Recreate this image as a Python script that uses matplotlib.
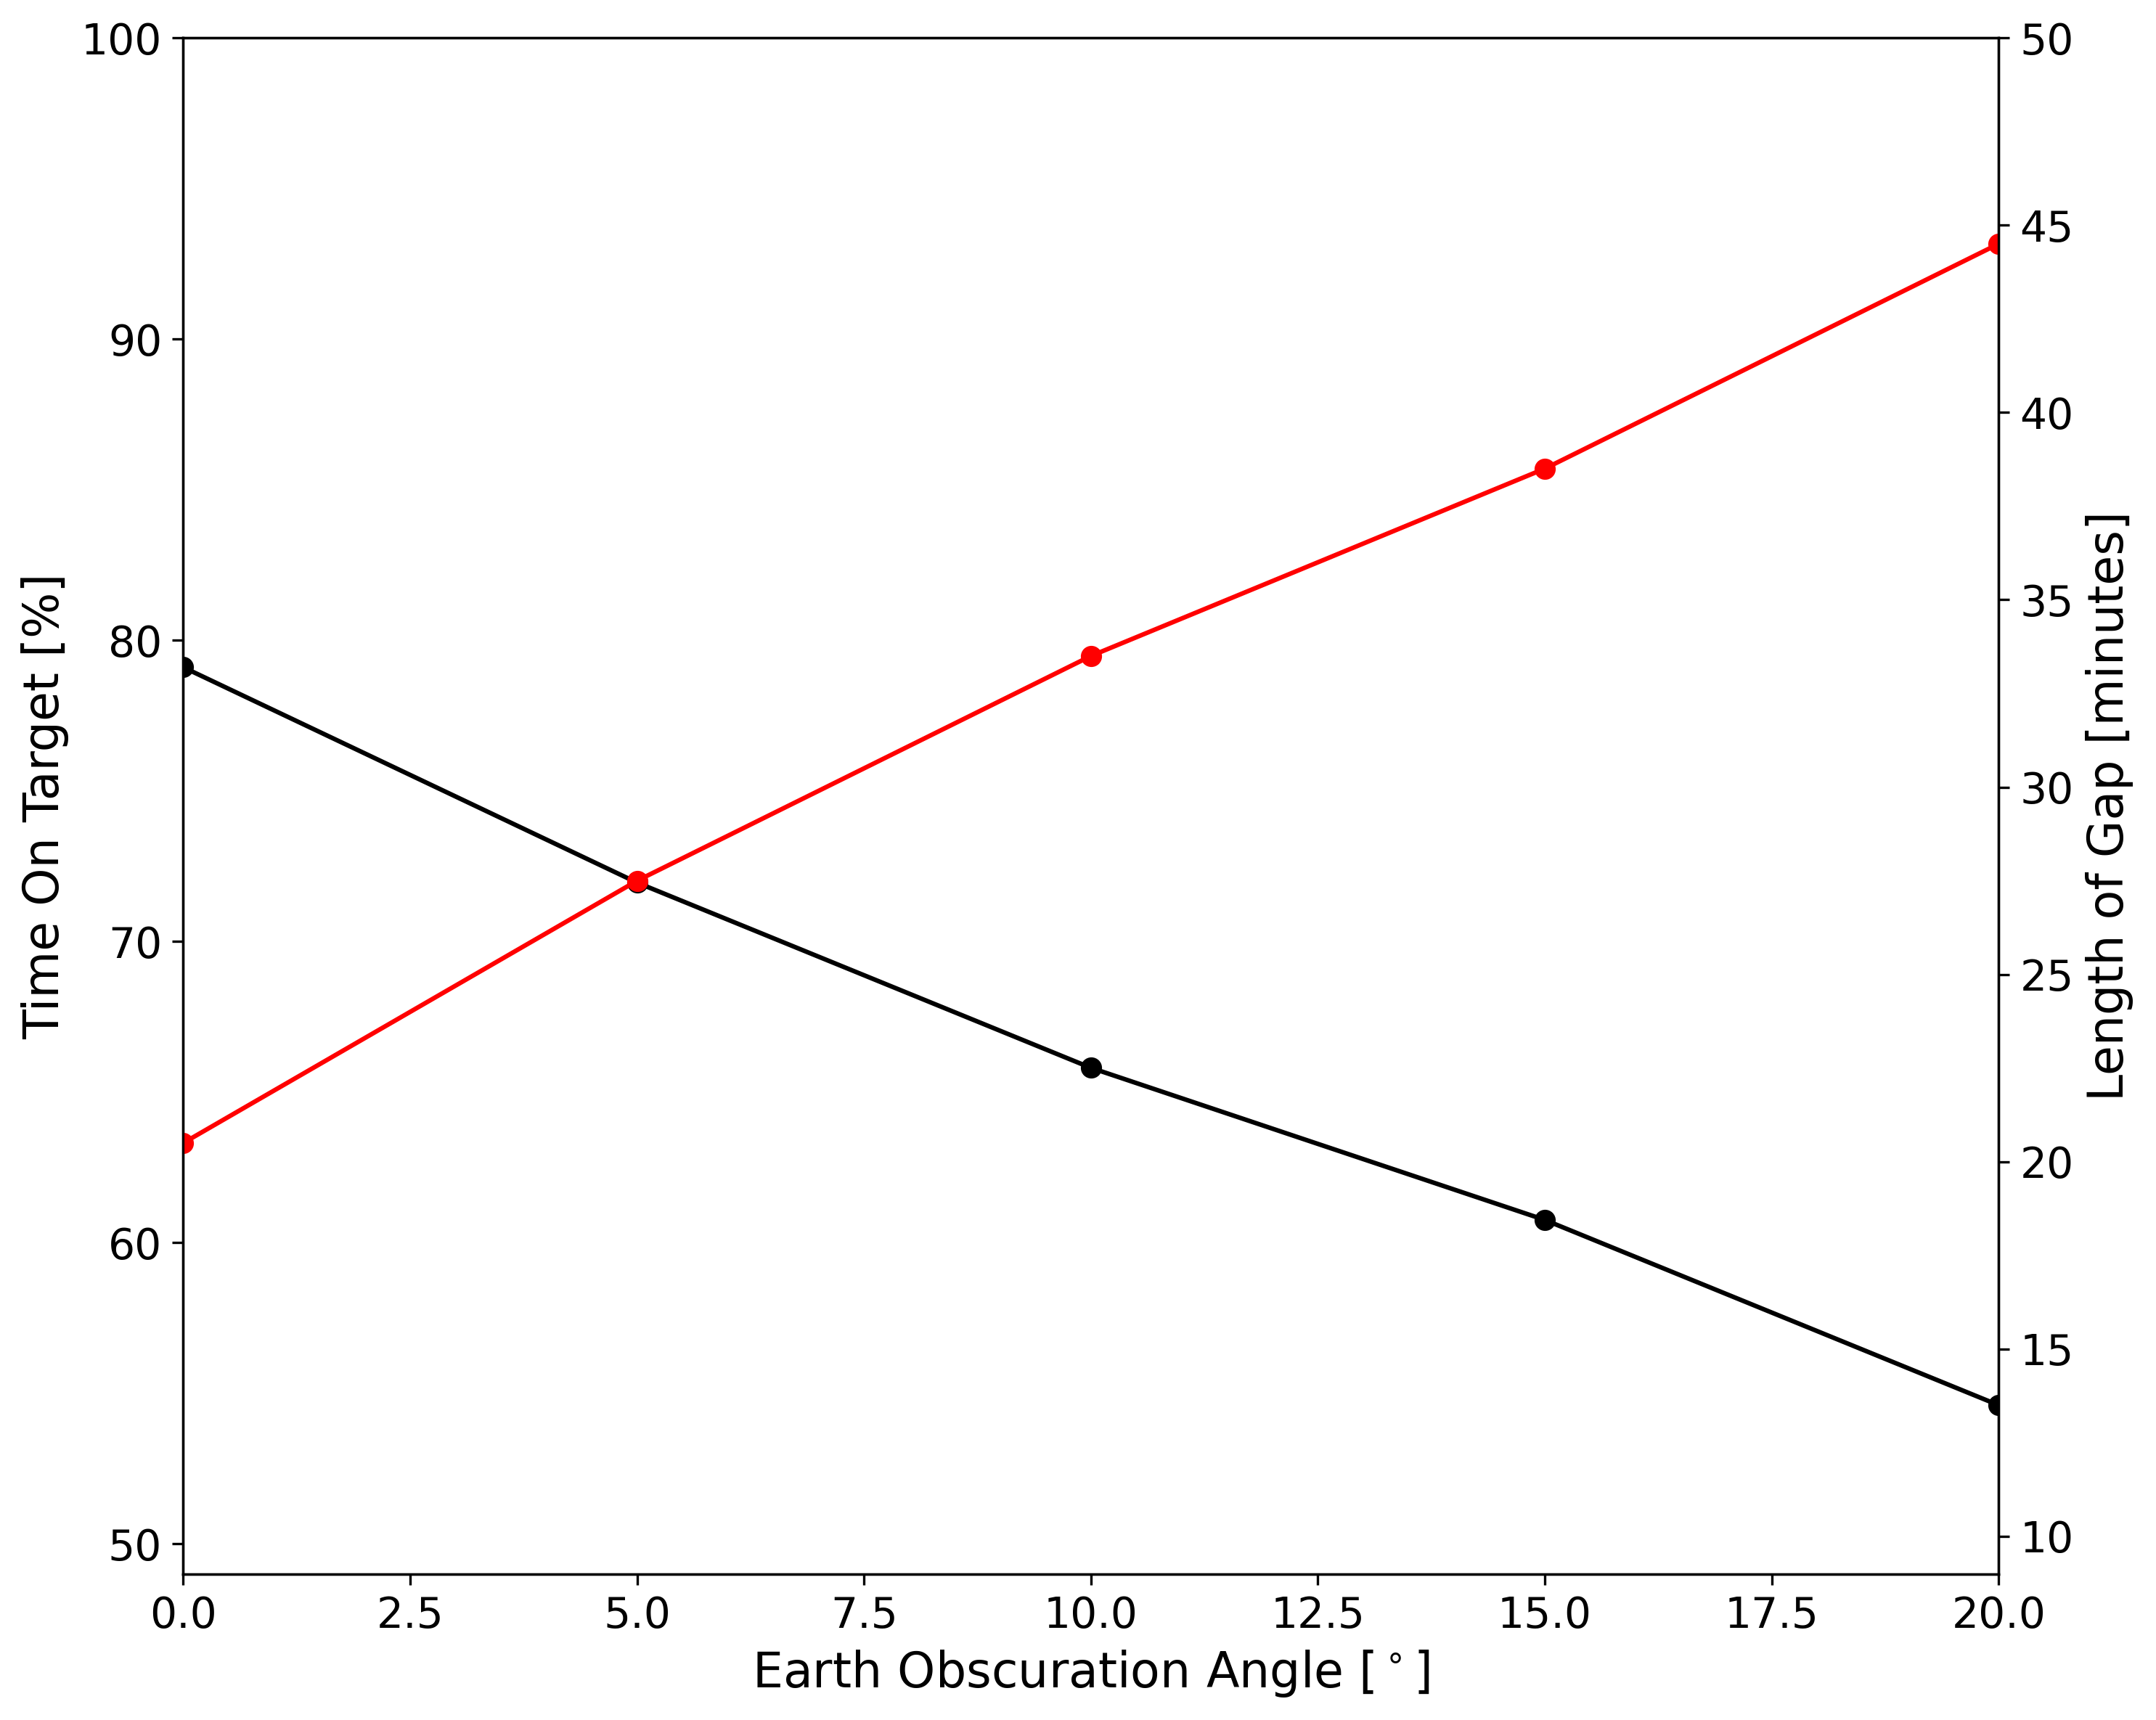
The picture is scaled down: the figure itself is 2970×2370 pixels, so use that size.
import matplotlib
matplotlib.use("Agg")
import matplotlib.pyplot as plt

# Earth obscuration angle [deg]
angle = [0, 5, 10, 15, 20]
# time on target [%] (left axis, black)
time_on_target = [79.1, 71.95, 65.8, 60.75, 54.6]
# gap length [minutes] (right axis, red)
gap_length = [20.5, 27.5, 33.5, 38.5, 44.5]

fig = plt.figure(figsize=(9.9, 7.9), dpi=300)
ax = fig.add_axes([0.085, 0.085, 0.842, 0.893])

ax.plot(angle, time_on_target, "o-", color="black", lw=1.5, ms=6)
ax.set_xlim(0, 20)
ax.set_ylim(49, 100)
ax.set_xlabel("Earth Obscuration Angle [$^\\circ$]", fontsize=16)
ax.set_ylabel("Time On Target [%]", fontsize=16)
ax.tick_params(labelsize=14)

ax2 = ax.twinx()
ax2.plot(angle, gap_length, "o-", color="red", lw=1.5, ms=6)
ax2.set_ylim(9, 50)
ax2.set_ylabel("Length of Gap [minutes]", fontsize=16)
ax2.tick_params(labelsize=14)

fig.savefig("out.png", dpi=300)
